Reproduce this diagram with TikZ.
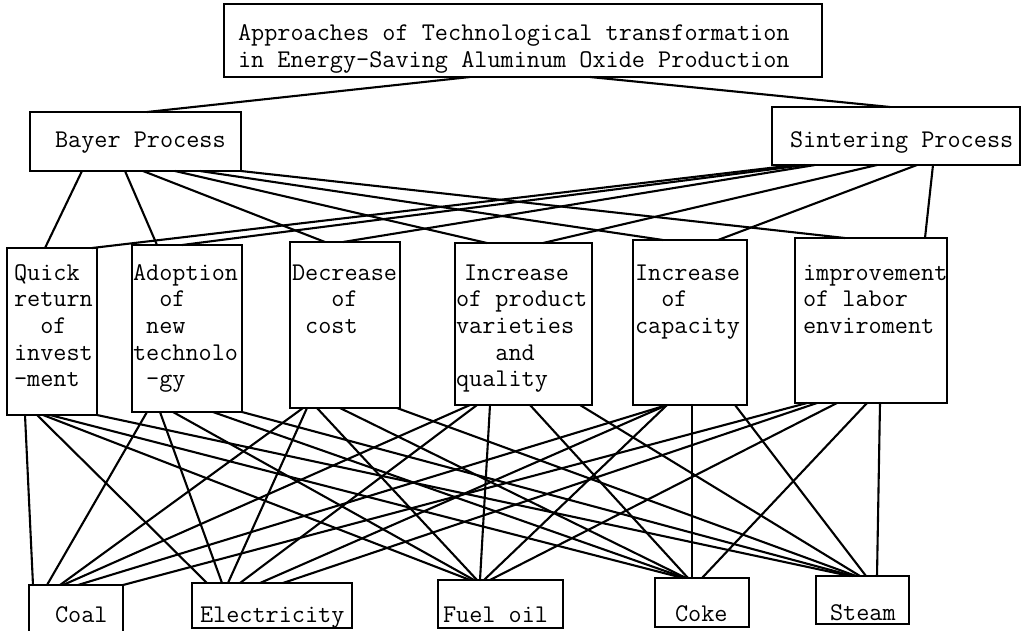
\documentclass[tikz,border=0pt]{standalone}
\usepackage{fontspec}
\usetikzlibrary{calc}

% connector from a point on the bottom edge of one box to a point on the top edge of another
\newcommand{\wire}[4]{\draw[conn] ($(#1.south west)+(#2,0)$) -- ($(#3.north west)+(#4,0)$);}

\begin{document}
\begin{tikzpicture}[x=1pt, y=-1pt,
  box/.style={draw, line width=2.8pt, inner sep=0pt, outer sep=0pt, anchor=north west, fill=white},
  txt/.style={inner sep=0pt, outer sep=0pt, anchor=north west, align=left,
              font=\ttfamily\fontsize{25.5pt}{26.7pt}\selectfont},
  conn/.style={line width=2.1pt, line cap=round}]
\useasboundingbox[fill=white] (0,0) rectangle (1032,630);

% boxes
\node[box, minimum width=598pt, minimum height=73pt]  (title)  at (224,4) {};
\node[box, minimum width=211pt, minimum height=59pt]  (bayer)  at (30,112) {};
\node[box, minimum width=248pt, minimum height=58pt]  (sinter) at (772,107) {};

\node[box, minimum width=90pt,  minimum height=167pt] (quick)  at (7,248) {};
\node[box, minimum width=110pt, minimum height=167pt] (adopt)  at (132,245) {};
\node[box, minimum width=110pt, minimum height=166pt] (decr)   at (290,242) {};
\node[box, minimum width=137pt, minimum height=162pt] (incp)   at (455,243) {};
\node[box, minimum width=114pt, minimum height=165pt] (capa)   at (633,240) {};
\node[box, minimum width=152pt, minimum height=165pt] (impr)   at (795,238) {};

\node[box, minimum width=94pt,  minimum height=49pt]  (coal)   at (29,585) {};
\node[box, minimum width=160pt, minimum height=45pt]  (elec)   at (192,583) {};
\node[box, minimum width=125pt, minimum height=48pt]  (fuel)   at (438,580) {};
\node[box, minimum width=94pt,  minimum height=49pt]  (coke)   at (655,578) {};
\node[box, minimum width=93pt,  minimum height=48pt]  (steam)  at (816,576) {};

% labels
\node[txt] (title-t)  at (238,22.3) {\strut Approaches of Technological transformation\\in Energy-Saving Aluminum Oxide Production};
\node[txt] (bayer-t)  at (55,129.3)  {\strut Bayer Process};
\node[txt] (sinter-t) at (790,129.3) {\strut Sintering Process};

\node[txt] (quick-t) at (14,261.3)  {\strut Quick\\return\\~~of\\invest\\-ment};
\node[txt] (adopt-t) at (133,261.3) {\strut Adoption\\~~of\\~new\\technolo\\~-gy};
\node[txt] (decr-t)  at (292,261.3) {\strut Decrease\\~~~of\\~cost};
\node[txt] (incp-t)  at (456,261.3) {\strut\hspace*{8pt}Increase\\of product\\varieties\\~~~and\\quality};
\node[txt] (capa-t)  at (635,261.3) {\strut Increase\\~~of\\capacity};
\node[txt] (impr-t)  at (803,261.3) {\strut improvement\\of labor\\enviroment};

\node[txt] (coal-t)  at (55,603.3)  {\strut Coal};
\node[txt] (elec-t)  at (200,603.3) {\strut Electricity};
\node[txt] (fuel-t)  at (443,603.3) {\strut Fuel oil};
\node[txt] (coke-t)  at (675,602.3) {\strut Coke};
\node[txt] (steam-t) at (830,601.3) {\strut Steam};

% title to processes
\wire{title}{246}{bayer}{117}
\wire{title}{366}{sinter}{118}

% Bayer process to approaches
\wire{bayer}{52}{quick}{38}
\wire{bayer}{95}{adopt}{25}
\wire{bayer}{113}{decr}{35}
\wire{bayer}{145}{incp}{32}
\wire{bayer}{170}{capa}{30}
\wire{bayer}{211}{impr}{50}

% Sintering process to approaches
\wire{sinter}{23}{quick}{85}
\wire{sinter}{33}{adopt}{50}
\wire{sinter}{43}{decr}{53}
\wire{sinter}{105}{incp}{88}
\wire{sinter}{145}{capa}{85}
\wire{sinter}{161}{impr}{130}

% approaches to energy carriers
\wire{quick}{18}{coal}{4}
\wire{quick}{30}{elec}{15}
\wire{quick}{36}{fuel}{32}
\wire{quick}{43}{coke}{28}
\wire{quick}{90}{steam}{34}

\wire{adopt}{15}{coal}{18}
\wire{adopt}{28}{elec}{30}
\wire{adopt}{41}{fuel}{36}
\wire{adopt}{81}{coke}{30}
\wire{adopt}{110}{steam}{37}

\wire{decr}{13}{coal}{31}
\wire{decr}{17}{elec}{36}
\wire{decr}{27}{fuel}{39}
\wire{decr}{50}{coke}{31}
\wire{decr}{107}{steam}{40}

\wire{incp}{15}{coal}{34}
\wire{incp}{22}{elec}{48}
\wire{incp}{35}{fuel}{42}
\wire{incp}{75}{coke}{33}
\wire{incp}{125}{steam}{44}

\wire{capa}{34}{coal}{49}
\wire{capa}{34}{elec}{68}
\wire{capa}{34}{fuel}{46}
\wire{capa}{59}{coke}{37}
\wire{capa}{102}{steam}{50}

\wire{impr}{12}{coal}{94}
\wire{impr}{22}{elec}{91}
\wire{impr}{42}{fuel}{52}
\wire{impr}{72}{coke}{47}
\wire{impr}{85}{steam}{61}
\end{tikzpicture}
\end{document}
